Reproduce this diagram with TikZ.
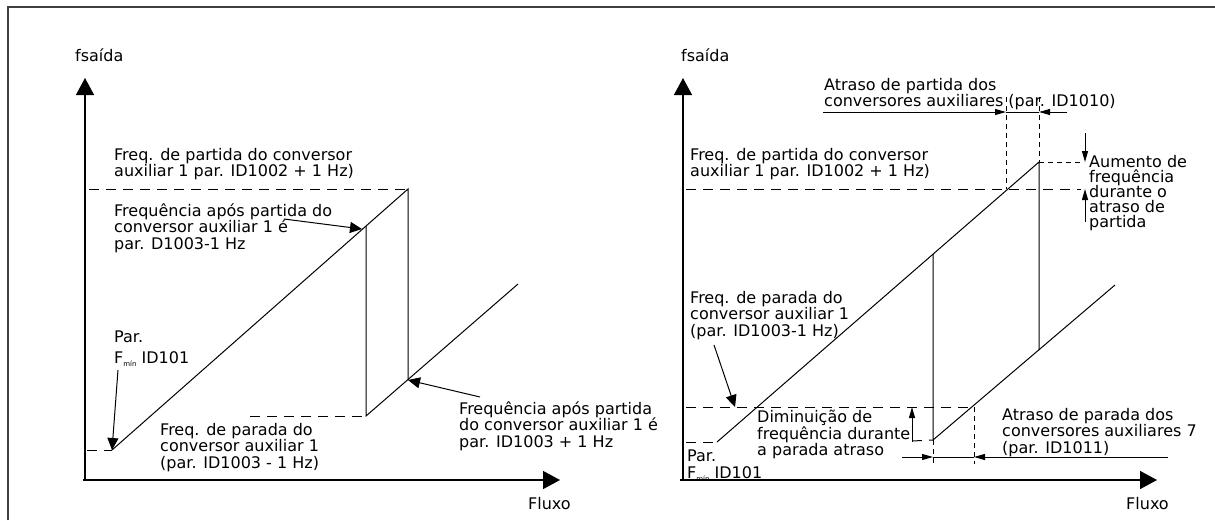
\documentclass[tikz,border=0pt]{standalone}
\usepackage{fontspec}
\setmainfont{DejaVu Sans}
\usetikzlibrary{arrows.meta, positioning, calc}
\newcommand{\notefont}{\fontsize{16}{16.5}\selectfont\lineskiplimit=-20pt\relax}
\newcommand{\tightfont}{\fontsize{16}{15}\selectfont\lineskiplimit=-20pt\relax}
\newcommand{\Fmin}{F\raisebox{-3pt}{\fontsize{7}{7}\selectfont mín}}
\tikzset{
	framebox/.style={line width=1.5pt, color=black!75},
	axisline/.style={
		-{Triangle[length=17pt, width=18pt]}, line width=1.4pt
	},
	ramp/.style={line width=1pt},
	guide/.style={dash pattern=on 10pt off 7pt, line width=1pt},
	fineguide/.style={dash pattern=on 5pt off 4pt, line width=0.9pt},
	arrow/.style={
		-{Triangle[length=12pt, width=11pt]}, line width=1pt
	},
	thinarrow/.style={
		-{Triangle[length=11pt, width=6pt]}, line width=1pt
	},
	note/.style={
		anchor=north west, inner sep=0pt, align=left, font=\notefont
	},
	axistext/.style={anchor=base west, inner sep=0pt, font=\notefont}
}
\begin{document}
\begin{tikzpicture}[x=1pt, y=-1pt]
	\useasboundingbox (0,0) rectangle (1215,520);
	\draw[framebox] (8,520) -- (8,7) -- (1215,7);

	%% ═══════════════════════════════
	%%  LEFT PANEL — axes
	%% ═══════════════════════════════
	\coordinate (oL) at (85,480);
	\coordinate (yL) at (85,78);
	\coordinate (xL) at (560,480);
	\draw[axisline] ($(oL)+(0,1)$) -- (yL);
	\draw[axisline] ($(oL)+(-2,0)$) -- (xL);
	\node[axistext] (fsaidaL) at (75,61) {fsaída};
	\node[axistext] (fluxoL) at (528,509) {Fluxo};

	%% ═══════════════════════════════
	%%  LEFT PANEL — curves
	%% ═══════════════════════════════
	\coordinate (startL) at (112,450);
	\coordinate (peakL)  at (408,189);
	\coordinate (dropL)  at (366,226);
	\coordinate (lowL)   at (366,416);
	\coordinate (kneeL)  at (408,380);
	\coordinate (endL)   at (518,284);
	\draw[ramp] (startL) -- (peakL) -- (kneeL);
	\draw[ramp] (dropL) -- (lowL) -- (endL);

	\draw[guide] (89,189) -- (peakL);
	\draw[guide] (250,416) -- (lowL);
	\draw[guide] (87,450) -- (startL);

	%% ═══════════════════════════════
	%%  LEFT PANEL — labels
	%% ═══════════════════════════════
	\node[note] (partidaL) at (114,148)
		{Freq. de partida do conversor\\auxiliar 1 par. ID1002 + 1 Hz)};
	\node[note] (aposA) at (114,203)
		{Frequência após partida do\\conversor auxiliar 1 é\\par. D1003-1 Hz};
	\node[note] (fminL) at (114,331) {Par.\\[4pt]\Fmin{} ID101};
	\node[note] (paradaL) at (160,423)
		{Freq. de parada do\\conversor auxiliar 1\\(par. ID1003 - 1 Hz)};
	\node[note] (aposB) at (459,401)
		{Frequência após partida\\do conversor auxiliar 1 é\\par. ID1003 + 1 Hz};

	% labels → curves
	\draw[arrow] (284,219) -- (362,229);
	\draw[arrow] (118,370) -- (startL);
	\draw[arrow] (480,397) -- (kneeL);

	%% ═══════════════════════════════
	%%  RIGHT PANEL — axes
	%% ═══════════════════════════════
	\coordinate (oR) at (683,480);
	\coordinate (yR) at (683,78);
	\coordinate (xR) at (1157,480);
	\draw[axisline] ($(oR)+(0,1)$) -- (yR);
	\draw[axisline] ($(oR)+(-3,0)$) -- (xR);
	\node[axistext] (fsaidaR) at (681,61) {fsaída};
	\node[axistext] (fluxoR) at (1126,509) {Fluxo};

	%% ═══════════════════════════════
	%%  RIGHT PANEL — curves
	%% ═══════════════════════════════
	\coordinate (startR) at (717,442);
	\coordinate (crossR) at (1006,189);
	\coordinate (peakR)  at (1039,162);
	\coordinate (dropR)  at (933,254);
	\coordinate (lowR)   at (933,440);
	\coordinate (kneeR)  at (1039,350);
	\coordinate (stopR)  at (974,407);
	\coordinate (endR)   at (1115,285);
	\draw[ramp] (startR) -- (peakR) -- (kneeR);
	\draw[ramp] (dropR) -- (lowR) -- (endR);

	\draw[guide] (686,189) -- (1081,189);
	\draw[guide] (686,407) -- (stopR);
	\draw[guide] (686,442) -- (startR);
	\draw[guide] (912,441) -- (lowR);
	\draw[fineguide] (peakR) -- (1084,162);
	\draw[fineguide] (1006,97) -- (crossR);
	\draw[fineguide] (1039,97) -- (peakR);
	\draw[fineguide] (stopR) -- (974,464);
	\draw[fineguide] (lowR) -- (933,464);

	%% ═══════════════════════════════
	%%  RIGHT PANEL — delays
	%% ═══════════════════════════════
	% start delay
	\draw[thinarrow] (823,112) -- (1006,112);
	\draw[thinarrow] (1067,112) -- (1039,112);
	\draw[ramp] (1006,112) -- (1039,112);
	% stop delay
	\draw[thinarrow] (902,457) -- (933,457);
	\draw[thinarrow] (1168,457) -- (974,457);
	\draw[ramp] (933,457) -- (974,457);
	% frequency increase
	\draw[thinarrow] (1085,133) -- (1085,162);
	\draw[thinarrow] (1085,222) -- (1085,189);
	% frequency decrease
	\draw[thinarrow, {Triangle[length=11pt, width=6pt]}-] (912,407) -- (912,442);

	%% ═══════════════════════════════
	%%  RIGHT PANEL — labels
	%% ═══════════════════════════════
	\node[note] (atrasoP) at (824,78)
		{Atraso de partida dos\\conversores auxiliares (par. ID1010)};
	\node[note] (partidaR) at (690,148)
		{Freq. de partida do conversor\\auxiliar 1 par. ID1002 + 1 Hz)};
	\node[note, font=\tightfont] (aumento) at (1089,155)
		{Aumento de\\frequência\\durante o\\atraso de\\partida};
	\node[note] (paradaR) at (690,291)
		{Freq. de parada do\\conversor auxiliar 1\\(par. ID1003-1 Hz)};
	\node[note] (diminui) at (757,410)
		{Diminuição de\\frequência durante\\a parada atraso};
	\node[note] (atrasoS) at (1002,408)
		{Atraso de parada dos\\conversores auxiliares 7\\(par. ID1011)};
	\node[note] (fminR) at (687,450) {Par.\\\Fmin{} ID101};

	% label → stop level
	\draw[arrow] (714,345) -- (735,407);
\end{tikzpicture}
\end{document}
